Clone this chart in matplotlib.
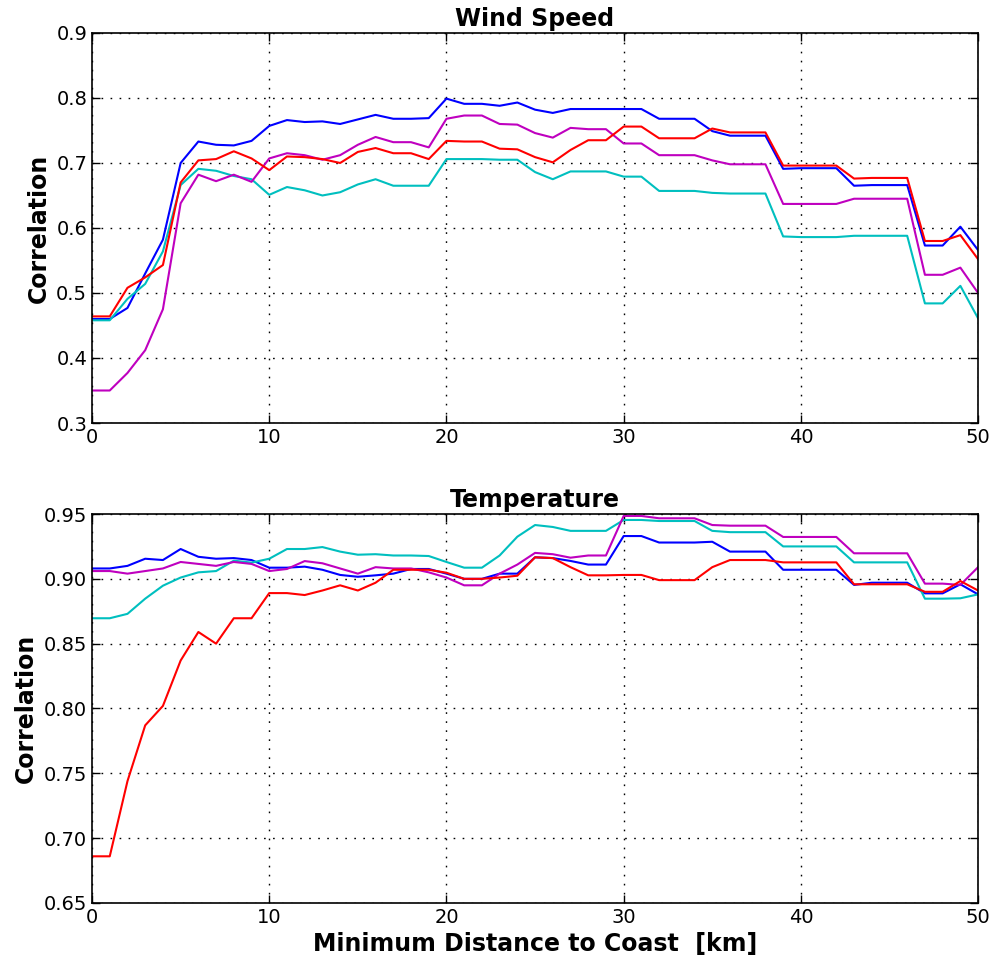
import numpy as np
import matplotlib
matplotlib.use('Agg')
import matplotlib.pyplot as plt

dist = np.arange(0, 51)

# wind speed correlations
ws_blue = [0.460, 0.460, 0.477, 0.530, 0.582, 0.700, 0.733, 0.728, 0.727, 0.734,
           0.757, 0.766, 0.763, 0.764, 0.760, 0.767, 0.774, 0.768, 0.768, 0.769,
           0.799, 0.791, 0.791, 0.788, 0.793, 0.782, 0.777, 0.783, 0.783, 0.783,
           0.783, 0.783, 0.768, 0.768, 0.768, 0.749, 0.742, 0.742, 0.742, 0.691,
           0.692, 0.692, 0.692, 0.665, 0.666, 0.666, 0.666, 0.573, 0.573, 0.602,
           0.566]
ws_cyan = [0.458, 0.458, 0.491, 0.514, 0.564, 0.666, 0.691, 0.688, 0.680, 0.675,
           0.651, 0.663, 0.658, 0.650, 0.655, 0.667, 0.675, 0.665, 0.665, 0.665,
           0.706, 0.706, 0.706, 0.705, 0.705, 0.686, 0.675, 0.687, 0.687, 0.687,
           0.679, 0.679, 0.657, 0.657, 0.657, 0.654, 0.653, 0.653, 0.653, 0.587,
           0.586, 0.586, 0.586, 0.588, 0.588, 0.588, 0.588, 0.484, 0.484, 0.511,
           0.461]
ws_mag = [0.350, 0.350, 0.377, 0.412, 0.475, 0.638, 0.682, 0.672, 0.682, 0.671,
          0.707, 0.715, 0.712, 0.705, 0.712, 0.728, 0.740, 0.732, 0.732, 0.724,
          0.768, 0.773, 0.773, 0.760, 0.759, 0.746, 0.739, 0.754, 0.752, 0.752,
          0.730, 0.730, 0.712, 0.712, 0.712, 0.704, 0.698, 0.698, 0.698, 0.637,
          0.637, 0.637, 0.637, 0.645, 0.645, 0.645, 0.645, 0.528, 0.528, 0.539,
          0.500]
ws_red = [0.464, 0.464, 0.508, 0.524, 0.543, 0.670, 0.704, 0.706, 0.718, 0.707,
          0.689, 0.710, 0.709, 0.706, 0.700, 0.717, 0.723, 0.715, 0.715, 0.706,
          0.734, 0.733, 0.733, 0.722, 0.721, 0.709, 0.701, 0.720, 0.735, 0.735,
          0.756, 0.756, 0.738, 0.738, 0.738, 0.753, 0.747, 0.747, 0.747, 0.696,
          0.696, 0.696, 0.696, 0.676, 0.677, 0.677, 0.677, 0.580, 0.580, 0.589,
          0.552]

# temperature correlations
t_blue = [0.908, 0.908, 0.910, 0.9155, 0.9145, 0.923, 0.917, 0.9155, 0.916, 0.9145,
          0.9086, 0.9086, 0.9094, 0.907, 0.903, 0.9016, 0.9027, 0.904, 0.9076, 0.9076,
          0.904, 0.900, 0.900, 0.904, 0.904, 0.9166, 0.916, 0.9138, 0.911, 0.911,
          0.933, 0.933, 0.928, 0.928, 0.928, 0.9286, 0.921, 0.921, 0.921, 0.907,
          0.907, 0.907, 0.907, 0.8953, 0.897, 0.897, 0.897, 0.8888, 0.8888, 0.8958,
          0.888]
t_cyan = [0.8696, 0.8696, 0.873, 0.8847, 0.8947, 0.901, 0.905, 0.906, 0.914, 0.9125,
          0.9155, 0.923, 0.923, 0.9245, 0.921, 0.9186, 0.919, 0.918, 0.918, 0.9176,
          0.913, 0.9086, 0.9086, 0.918, 0.9325, 0.9415, 0.940, 0.937, 0.937, 0.937,
          0.9454, 0.9454, 0.9446, 0.9446, 0.9446, 0.937, 0.936, 0.936, 0.936, 0.925,
          0.925, 0.925, 0.925, 0.9127, 0.9127, 0.9127, 0.9127, 0.8847, 0.8847, 0.885,
          0.888]
t_mag = [0.906, 0.906, 0.904, 0.906, 0.908, 0.913, 0.9115, 0.910, 0.913, 0.9115,
         0.906, 0.9076, 0.9137, 0.912, 0.908, 0.904, 0.909, 0.908, 0.908, 0.905,
         0.901, 0.895, 0.895, 0.904, 0.911, 0.920, 0.919, 0.9163, 0.918, 0.918,
         0.9485, 0.9485, 0.9467, 0.9467, 0.9467, 0.9415, 0.941, 0.941, 0.941, 0.9323,
         0.9323, 0.9323, 0.9323, 0.9197, 0.9197, 0.9197, 0.9197, 0.8963, 0.8963, 0.8953,
         0.909]
t_red = [0.686, 0.686, 0.744, 0.787, 0.802, 0.837, 0.859, 0.850, 0.8696, 0.8696,
         0.889, 0.889, 0.8875, 0.891, 0.895, 0.891, 0.897, 0.907, 0.907, 0.907,
         0.9047, 0.900, 0.900, 0.901, 0.9024, 0.9166, 0.916, 0.909, 0.9027, 0.9027,
         0.903, 0.903, 0.899, 0.899, 0.899, 0.909, 0.9145, 0.9145, 0.9145, 0.9127,
         0.9127, 0.9127, 0.9127, 0.8958, 0.8958, 0.8958, 0.8958, 0.890, 0.890, 0.8983,
         0.891]

ws_ticks = [0.3, 0.4, 0.5, 0.6, 0.7, 0.8, 0.9]
t_ticks = [0.65, 0.70, 0.75, 0.80, 0.85, 0.90, 0.95]

colors = ['#0000ff', '#00bfbf', '#bf00bf', '#ff0000']

fig = plt.figure(figsize=(9.95, 9.64), dpi=100)
fig.patch.set_facecolor('white')
ax1 = fig.add_axes([0.0925, 0.5612, 0.8905, 0.4046])
ax2 = fig.add_axes([0.0925, 0.0633, 0.8905, 0.4035])


def style_ax(ax, yticks, fmt):
    ax.set_xlim(0, 50)
    ax.set_ylim(yticks[0], yticks[-1])
    ax.set_yticks(yticks)
    ax.set_yticklabels([fmt.format(v) for v in yticks])
    ax.set_xticks([0, 10, 20, 30, 40, 50])
    ax.grid(True, color='k', linestyle=(0, (1.2, 5.3)), linewidth=1.0)
    ax.tick_params(direction='in', top=True, right=True, labelsize=14,
                   length=6, width=1)
    for sp in ax.spines.values():
        sp.set_linewidth(1.2)
    ax.set_ylabel('Correlation', fontsize=17, fontweight='bold')


for ys, c in zip([ws_blue, ws_cyan, ws_mag, ws_red], colors):
    ax1.plot(dist, ys, color=c, lw=1.5)
style_ax(ax1, ws_ticks, '{:.1f}')
ax1.set_title('Wind Speed', fontsize=17, fontweight='bold', pad=5)

for ys, c in zip([t_blue, t_cyan, t_mag, t_red], colors):
    ax2.plot(dist, ys, color=c, lw=1.5)
style_ax(ax2, t_ticks, '{:.2f}')
ax2.set_title('Temperature', fontsize=17, fontweight='bold', pad=5)
ax2.set_xlabel('Minimum Distance to Coast  [km]', fontsize=17, fontweight='bold')

fig.savefig('out.png', dpi=100)
